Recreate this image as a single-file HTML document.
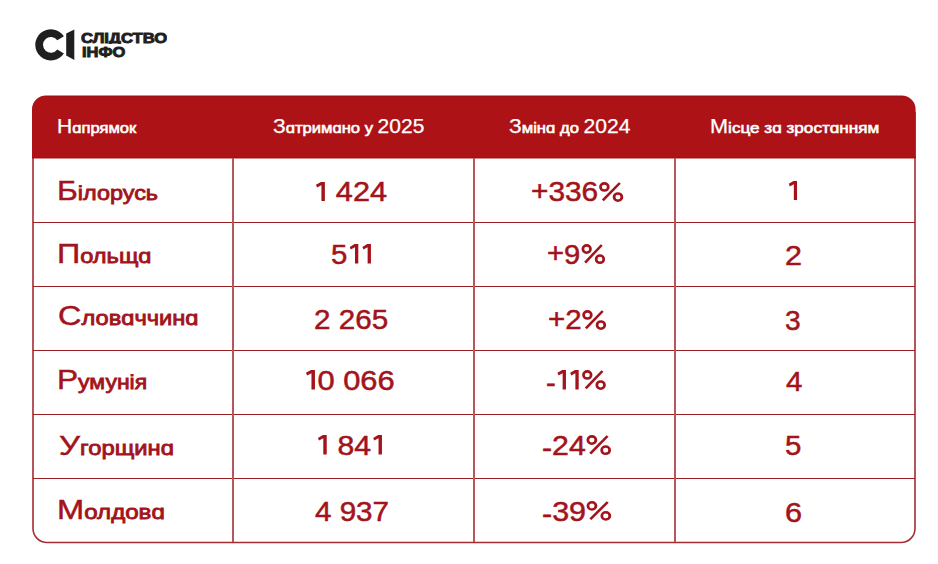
<!DOCTYPE html>
<html><head><meta charset="utf-8">
<style>
html,body{margin:0;padding:0;background:#fff;}
body{width:938px;height:564px;position:relative;overflow:hidden;font-family:"Liberation Sans",sans-serif;}
.tbl{position:absolute;left:32px;top:96px;width:884px;height:447px;box-sizing:border-box;border:2px solid #B23C40;border-radius:14px;}
.hdr{position:absolute;left:32px;top:96px;width:884px;height:62px;background:#AD1316;border-radius:14px 14px 0 0;}
.hl{position:absolute;left:33px;width:882px;height:1px;background:#9A1E24;}
.vl{position:absolute;top:158px;width:2px;height:384px;background:#B5585C;}
.t{position:absolute;white-space:pre;line-height:1;transform-origin:0 0;}
svg.logo{position:absolute;left:0;top:0;}
</style></head><body>
<svg class="logo" width="938" height="90" viewBox="0 0 938 90">
<path d="M63.9 36.3 A15.6 15.6 0 1 0 63.9 53.4 L57.3 49.5 A7.9 7.9 0 1 1 57.3 40.2 Z" fill="#1f1f1f"/>
<path d="M66.2 33.5 L74.3 29.6 L74.3 60.1 L66.2 55.5 Z" fill="#1f1f1f"/>
</svg>
<svg class="logo" width="938" height="564" viewBox="0 0 938 564"><path d="M33 112L33 528.5A14 14 0 0 0 47 542.5L901 542.5A14 14 0 0 0 915 528.5L915 112" fill="none" stroke="#A42C32" stroke-width="1.6"/></svg>
<svg class="logo" width="938" height="564" viewBox="0 0 938 564"><path d="M32 158.5L32 109.5A14 14 0 0 1 46 95.5L901.6 95.5A14 14 0 0 1 915.6 109.5L915.6 158.5Z" fill="#AD1316"/></svg>
<div style="position:absolute;left:46px;top:96px;width:856px;height:1px;background:#9C1216"></div>
<div style="position:absolute;left:32px;top:157px;width:883.6px;height:1px;background:#951619"></div>
<div class="hl" style="top:222px"></div>
<div class="hl" style="top:286px"></div>
<div class="hl" style="top:350px"></div>
<div class="hl" style="top:414px"></div>
<div class="hl" style="top:478px"></div>
<div class="vl" style="left:232px"></div>
<div class="vl" style="left:473px"></div>
<div class="vl" style="left:674px"></div>
<div class="t" style="left:57.02px;top:117.10px;font-size:19.49px;color:#fff;transform:scaleX(1.0833);"><span style="font-weight:normal;-webkit-text-stroke:0.25px #fff">Н</span><span style="font-size:15.29px;font-weight:normal;-webkit-text-stroke:0.6px #fff">ɑпрямок</span></div>
<div class="t" style="left:272.81px;top:117.22px;font-size:19.35px;color:#fff;transform:scaleX(1.0862);"><span style="font-weight:normal;-webkit-text-stroke:0.25px #fff">З</span><span style="font-size:15.29px;font-weight:normal;-webkit-text-stroke:0.6px #fff">ɑтримɑно у </span><span style="font-weight:normal;-webkit-text-stroke:0.25px #fff">2025</span></div>
<div class="t" style="left:509.21px;top:117.22px;font-size:19.35px;color:#fff;transform:scaleX(1.0891);"><span style="font-weight:normal;-webkit-text-stroke:0.25px #fff">З</span><span style="font-size:15.29px;font-weight:normal;-webkit-text-stroke:0.6px #fff">мінɑ до </span><span style="font-weight:normal;-webkit-text-stroke:0.25px #fff">2024</span></div>
<div class="t" style="left:709.88px;top:117.22px;font-size:19.35px;color:#fff;transform:scaleX(1.1208);"><span style="font-weight:normal;-webkit-text-stroke:0.25px #fff">М</span><span style="font-size:15.29px;font-weight:normal;-webkit-text-stroke:0.6px #fff">ісце зɑ зростɑнням</span></div>
<div class="t" style="left:57.17px;top:176.80px;font-size:27.23px;color:#A3131B;transform:scaleX(1.1655);"><span style="font-weight:normal;-webkit-text-stroke:0.45px #A3131B">Б</span><span style="font-size:20.08px;font-weight:normal;-webkit-text-stroke:0.8px #A3131B">ілорусь</span></div>
<div class="t" style="left:56.85px;top:240.16px;font-size:27.51px;color:#A3131B;transform:scaleX(1.1753);"><span style="font-weight:normal;-webkit-text-stroke:0.45px #A3131B">П</span><span style="font-size:20.08px;font-weight:normal;-webkit-text-stroke:0.8px #A3131B">ольщɑ</span></div>
<div class="t" style="left:58.02px;top:302.11px;font-size:27.51px;color:#A3131B;transform:scaleX(1.1786);"><span style="font-weight:normal;-webkit-text-stroke:0.45px #A3131B">С</span><span style="font-size:20.08px;font-weight:normal;-webkit-text-stroke:0.8px #A3131B">ловɑччинɑ</span></div>
<div class="t" style="left:57.11px;top:366.29px;font-size:27.65px;color:#A3131B;transform:scaleX(1.1447);"><span style="font-weight:normal;-webkit-text-stroke:0.45px #A3131B">Р</span><span style="font-size:20.08px;font-weight:normal;-webkit-text-stroke:0.8px #A3131B">умунія</span></div>
<div class="t" style="left:58.71px;top:431.80px;font-size:27.94px;color:#A3131B;transform:scaleX(1.1853);"><span style="font-weight:normal;-webkit-text-stroke:0.45px #A3131B">У</span><span style="font-size:20.08px;font-weight:normal;-webkit-text-stroke:0.8px #A3131B">горщинɑ</span></div>
<div class="t" style="left:56.80px;top:495.60px;font-size:27.23px;color:#A3131B;transform:scaleX(1.2000);"><span style="font-weight:normal;-webkit-text-stroke:0.45px #A3131B">М</span><span style="font-size:20.08px;font-weight:normal;-webkit-text-stroke:0.8px #A3131B">олдовɑ</span></div>
<div class="t" style="left:313.98px;top:178.04px;font-size:27.60px;color:#A3131B;transform:scaleX(1.1111);"><span style="font-weight:normal;-webkit-text-stroke:0.5px #A3131B"><svg viewBox="0 0 435 703" style="width:.435em;height:.703em;vertical-align:0;fill:currentColor"><path d="M355 0L355 703L242 703L242 118L100 196L64 104L228 0Z"/></svg> 424</span></div>
<div class="t" style="left:330.55px;top:240.80px;font-size:27.88px;color:#A3131B;transform:scaleX(1.0541);"><span style="font-weight:normal;-webkit-text-stroke:0.5px #A3131B">5<svg viewBox="0 0 435 703" style="width:.435em;height:.703em;vertical-align:0;fill:currentColor"><path d="M355 0L355 703L242 703L242 118L100 196L64 104L228 0Z"/></svg><svg viewBox="0 0 435 703" style="width:.435em;height:.703em;vertical-align:0;fill:currentColor"><path d="M355 0L355 703L242 703L242 118L100 196L64 104L228 0Z"/></svg></span></div>
<div class="t" style="left:313.53px;top:306.04px;font-size:27.60px;color:#A3131B;transform:scaleX(1.0731);"><span style="font-weight:normal;-webkit-text-stroke:0.5px #A3131B">2 265</span></div>
<div class="t" style="left:304.36px;top:366.84px;font-size:27.60px;color:#A3131B;transform:scaleX(1.1179);"><span style="font-weight:normal;-webkit-text-stroke:0.5px #A3131B"><svg viewBox="0 0 435 703" style="width:.435em;height:.703em;vertical-align:0;fill:currentColor"><path d="M355 0L355 703L242 703L242 118L100 196L64 104L228 0Z"/></svg>0 066</span></div>
<div class="t" style="left:315.73px;top:431.80px;font-size:27.88px;color:#A3131B;transform:scaleX(1.0831);"><span style="font-weight:normal;-webkit-text-stroke:0.5px #A3131B"><svg viewBox="0 0 435 703" style="width:.435em;height:.703em;vertical-align:0;fill:currentColor"><path d="M355 0L355 703L242 703L242 118L100 196L64 104L228 0Z"/></svg> 84<svg viewBox="0 0 435 703" style="width:.435em;height:.703em;vertical-align:0;fill:currentColor"><path d="M355 0L355 703L242 703L242 118L100 196L64 104L228 0Z"/></svg></span></div>
<div class="t" style="left:314.60px;top:497.68px;font-size:27.31px;color:#A3131B;transform:scaleX(1.0836);"><span style="font-weight:normal;-webkit-text-stroke:0.5px #A3131B">4 937</span></div>
<div class="t" style="left:531.02px;top:178.04px;font-size:27.60px;color:#A3131B;transform:scaleX(1.0810);"><span style="font-weight:normal;-webkit-text-stroke:0.5px #A3131B"><span style="position:relative;top:-.05em">+</span>336<svg viewBox="0 0 880 703" style="width:.88em;height:.703em;vertical-align:0;overflow:visible" fill="none" stroke="currentColor"><circle cx="213" cy="181" r="131" stroke-width="92"/><circle cx="669" cy="545" r="131" stroke-width="92"/><path d="M160 667L731 36" stroke-width="89"/></svg></span></div>
<div class="t" style="left:546.85px;top:240.80px;font-size:27.88px;color:#A3131B;transform:scaleX(1.0455);"><span style="font-weight:normal;-webkit-text-stroke:0.5px #A3131B"><span style="position:relative;top:-.05em">+</span>9<svg viewBox="0 0 880 703" style="width:.88em;height:.703em;vertical-align:0;overflow:visible" fill="none" stroke="currentColor"><circle cx="213" cy="181" r="131" stroke-width="92"/><circle cx="669" cy="545" r="131" stroke-width="92"/><path d="M160 667L731 36" stroke-width="89"/></svg></span></div>
<div class="t" style="left:548.13px;top:306.04px;font-size:27.60px;color:#A3131B;transform:scaleX(1.0698);"><span style="font-weight:normal;-webkit-text-stroke:0.5px #A3131B"><span style="position:relative;top:-.05em">+</span>2<svg viewBox="0 0 880 703" style="width:.88em;height:.703em;vertical-align:0;overflow:visible" fill="none" stroke="currentColor"><circle cx="213" cy="181" r="131" stroke-width="92"/><circle cx="669" cy="545" r="131" stroke-width="92"/><path d="M160 667L731 36" stroke-width="89"/></svg></span></div>
<div class="t" style="left:546.44px;top:366.84px;font-size:27.60px;color:#A3131B;transform:scaleX(1.0618);"><span style="font-weight:normal;-webkit-text-stroke:0.5px #A3131B"><span style="position:relative;top:.07em">-</span><svg viewBox="0 0 435 703" style="width:.435em;height:.703em;vertical-align:0;fill:currentColor"><path d="M355 0L355 703L242 703L242 118L100 196L64 104L228 0Z"/></svg><svg viewBox="0 0 435 703" style="width:.435em;height:.703em;vertical-align:0;fill:currentColor"><path d="M355 0L355 703L242 703L242 118L100 196L64 104L228 0Z"/></svg><svg viewBox="0 0 880 703" style="width:.88em;height:.703em;vertical-align:0;overflow:visible" fill="none" stroke="currentColor"><circle cx="213" cy="181" r="131" stroke-width="92"/><circle cx="669" cy="545" r="131" stroke-width="92"/><path d="M160 667L731 36" stroke-width="89"/></svg></span></div>
<div class="t" style="left:541.91px;top:431.80px;font-size:27.88px;color:#A3131B;transform:scaleX(1.0857);"><span style="font-weight:normal;-webkit-text-stroke:0.5px #A3131B"><span style="position:relative;top:.07em">-</span>24<svg viewBox="0 0 880 703" style="width:.88em;height:.703em;vertical-align:0;overflow:visible" fill="none" stroke="currentColor"><circle cx="213" cy="181" r="131" stroke-width="92"/><circle cx="669" cy="545" r="131" stroke-width="92"/><path d="M160 667L731 36" stroke-width="89"/></svg></span></div>
<div class="t" style="left:541.89px;top:497.68px;font-size:27.31px;color:#A3131B;transform:scaleX(1.1148);"><span style="font-weight:normal;-webkit-text-stroke:0.5px #A3131B"><span style="position:relative;top:.07em">-</span>39<svg viewBox="0 0 880 703" style="width:.88em;height:.703em;vertical-align:0;overflow:visible" fill="none" stroke="currentColor"><circle cx="213" cy="181" r="131" stroke-width="92"/><circle cx="669" cy="545" r="131" stroke-width="92"/><path d="M160 667L731 36" stroke-width="89"/></svg></span></div>
<div class="t" style="left:787.05px;top:177.04px;font-size:27.60px;color:#A3131B;transform:scaleX(1.0250);"><span style="font-weight:normal;-webkit-text-stroke:0.5px #A3131B"><svg viewBox="0 0 435 703" style="width:.435em;height:.703em;vertical-align:0;fill:currentColor"><path d="M355 0L355 703L242 703L242 118L100 196L64 104L228 0Z"/></svg></span></div>
<div class="t" style="left:784.90px;top:241.52px;font-size:27.74px;color:#A3131B;transform:scaleX(1.1000);"><span style="font-weight:normal;-webkit-text-stroke:0.5px #A3131B">2</span></div>
<div class="t" style="left:785.00px;top:305.96px;font-size:28.17px;color:#A3131B;transform:scaleX(1.0000);"><span style="font-weight:normal;-webkit-text-stroke:0.5px #A3131B">3</span></div>
<div class="t" style="left:786.00px;top:368.02px;font-size:27.74px;color:#A3131B;transform:scaleX(1.0600);"><span style="font-weight:normal;-webkit-text-stroke:0.5px #A3131B">4</span></div>
<div class="t" style="left:784.90px;top:433.46px;font-size:26.74px;color:#A3131B;transform:scaleX(1.1000);"><span style="font-weight:normal;-webkit-text-stroke:0.5px #A3131B">5</span></div>
<div class="t" style="left:785.19px;top:499.02px;font-size:27.74px;color:#A3131B;transform:scaleX(1.1077);"><span style="font-weight:normal;-webkit-text-stroke:0.5px #A3131B">6</span></div>
<div class="t" style="left:81.00px;top:31.06px;font-size:14.34px;color:#1f1f1f;transform:scaleX(1.1649);height:12.84px;overflow:hidden;"><span style="font-weight:bold;-webkit-text-stroke:0.9px #1f1f1f">СЛІДСТВО</span></div>
<div class="t" style="left:82.10px;top:44.16px;font-size:15.05px;color:#1f1f1f;transform:scaleX(1.0975);"><span style="font-weight:bold;-webkit-text-stroke:0.9px #1f1f1f">ІНФО</span></div>
</body></html>
